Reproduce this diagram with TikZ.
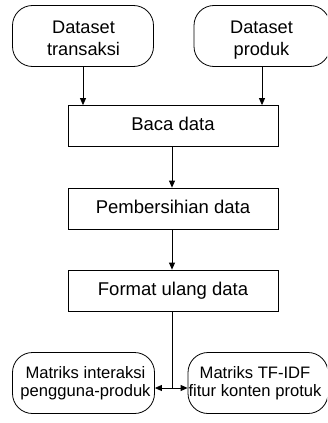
\documentclass[tikz,border=0pt]{standalone}
\usepackage{fontspec}
\setmainfont{Liberation Sans}
\usetikzlibrary{arrows.meta}
\begin{document}
\begin{tikzpicture}[x=1pt,y=-1pt,
  box/.style={draw,line width=0.8pt,minimum width=210pt,minimum height=41pt,inner sep=0pt,text height=12pt,text depth=3pt,font=\fontsize{18.5}{21}\selectfont},
  rbox/.style={draw,line width=0.8pt,rounded corners=20pt,inner sep=0pt},
  ttext/.style={inner sep=0pt,align=center,font=\fontsize{18.2}{21}\selectfont},
  btext/.style={inner sep=0pt,align=center,font=\fontsize{16.6}{17.7}\selectfont},
  arr/.style={line width=0.8pt,-{Triangle[length=7pt,width=6pt]}},
  darr/.style={line width=0.8pt,{Triangle[length=7pt,width=6pt]}-{Triangle[length=7pt,width=6pt]}}]
\useasboundingbox (0,0) rectangle (327,423);
\clip (0,0) rectangle (327,423);
\node[rbox,minimum width=141pt,minimum height=61pt] (ds1) at (83,36) {};
\node[ttext] (ds1t) at (83.5,40.3) {\strut Dataset\\\strut transaksi};
\node[rbox,minimum width=136pt,minimum height=61pt] (ds2) at (262,36) {};
\node[ttext] (ds2t) at (261.5,40.3) {\strut Dataset\\\strut produk};
\node[box] (baca) at (173,126) {Baca data};
\node[box] (pemb) at (173,208.5) {Pembersihian data};
\node[box] (fmt) at (173,290.5) {Format ulang data};
\node[rbox,minimum width=142pt,minimum height=61pt] (m1) at (83.5,383) {};
\node[btext] (m1t) at (85.5,384.3) {\strut Matriks interaksi\\\strut pengguna-produk};
\node[rbox,minimum width=140pt,minimum height=61pt] (m2) at (258,383) {};
\node[btext] (m2t) at (255,384.3) {\strut Matriks TF-IDF\\\strut fitur konten protuk};
\coordinate (j) at (172,388);
\draw[arr] (ds1.south) -- (ds1.south |- baca.north);
\draw[arr] (ds2.south) -- (ds2.south |- baca.north);
\draw[arr] (baca.south -| j) -- (pemb.north -| j);
\draw[arr] (pemb.south -| j) -- (fmt.north -| j);
\draw[line width=0.8pt] (fmt.south -| j) -- (j);
\draw[darr] (m1.east |- j) -- (m2.west |- j);
\end{tikzpicture}
\end{document}
